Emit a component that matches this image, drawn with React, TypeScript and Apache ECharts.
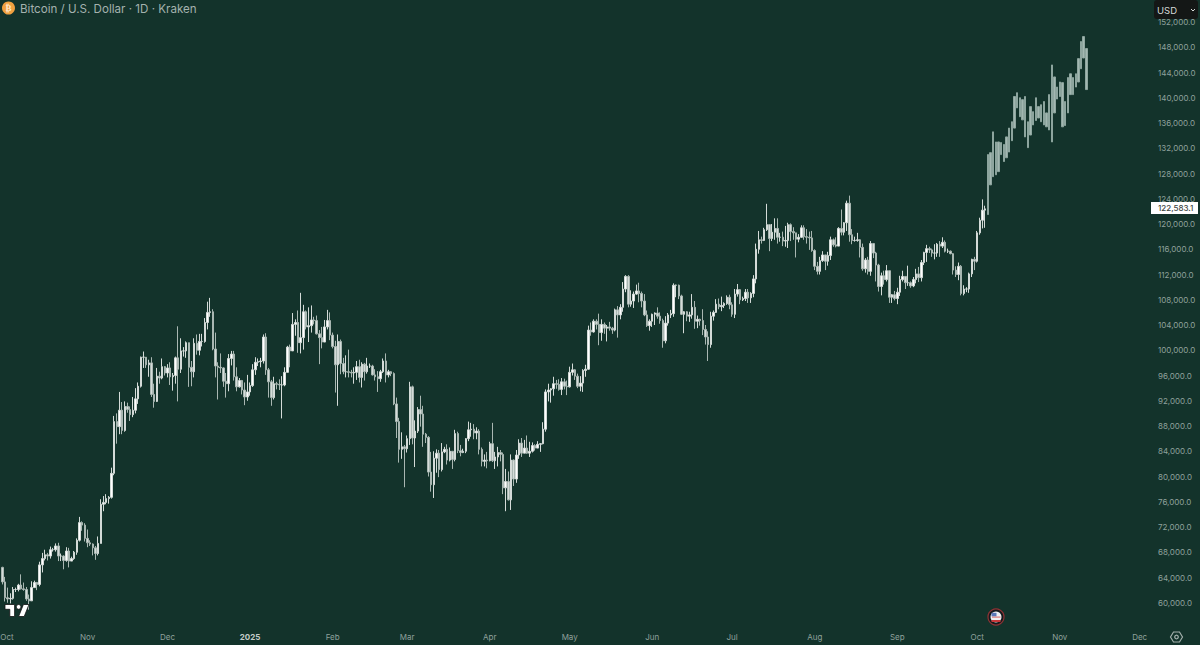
import React, { useEffect, useRef } from "react";
import * as echarts from "echarts";

// All prices are in thousands of USD. First candle: 30 Sep 2024.
const firstOpen = 65.6;
const closes = [
  63.3,
  60.8, 60.6, 60.7, 62.1, 62.1, 62.8, 62.2, 62.1, 60.6, 60.3, 62.4, 63.2, 62.9, 66.0, 67.0, 67.6, 67.4, 68.4, 68.4, 69.0, 67.4, 67.4, 66.7, 68.2, 66.6, 67.0, 68.0, 69.9, 72.7, 72.3, 70.2,
  69.5, 69.3, 68.7, 67.8, 69.4, 75.6, 75.9, 76.5, 76.7, 80.5, 88.7, 87.9, 90.5, 87.3, 91.1, 90.6, 89.8, 90.5, 92.3, 94.3, 98.9, 98.9, 97.7, 98.0, 93.0, 91.9, 95.9, 95.6, 97.4, 96.4,
  97.2, 95.8, 96.0, 98.8, 97.0, 99.9, 99.9, 101.2, 97.3, 96.6, 101.1, 100.0, 101.4, 101.4, 104.4, 106.0, 106.1, 100.2, 97.5, 97.3, 97.2, 95.1, 94.7, 98.7, 99.4, 95.8, 94.2, 95.2, 93.7, 92.6, 93.4,
  94.4, 96.9, 98.1, 98.2, 98.3, 102.1, 96.9, 95.0, 92.5, 94.7, 94.6, 94.5, 94.5, 96.5, 100.5, 99.9, 104.1, 104.4, 101.2, 102.0, 106.1, 103.7, 103.9, 104.8, 104.7, 102.6, 102.0, 101.3, 103.7, 104.7, 102.4,
  100.6, 97.7, 101.4, 97.9, 96.6, 96.6, 96.5, 96.4, 96.5, 97.4, 95.7, 97.8, 96.6, 97.5, 97.5, 96.1, 95.8, 95.5, 96.6, 98.3, 96.1, 96.6, 96.3, 91.5, 88.7, 84.3, 84.7, 84.4,
  86.0, 94.2, 86.1, 87.2, 90.6, 89.9, 86.7, 86.2, 80.7, 78.7, 82.9, 83.7, 81.1, 83.9, 84.3, 82.6, 84.0, 82.7, 86.8, 84.1, 83.8, 84.0, 86.0, 87.4, 87.5, 86.9, 87.2, 84.3, 82.4, 82.6, 82.5,
  85.2, 82.5, 83.1, 83.8, 83.5, 78.2, 79.2, 76.3, 82.6, 79.6, 83.4, 85.3, 83.7, 84.5, 83.7, 84.0, 84.9, 84.5, 85.1, 85.2, 87.5, 93.4, 93.7, 93.9, 94.7, 94.6, 93.8, 95.0, 94.3, 94.2,
  96.5, 96.9, 95.9, 94.3, 94.8, 96.8, 97.0, 103.2, 102.9, 104.6, 104.1, 102.8, 104.1, 103.5, 103.7, 103.5, 103.2, 106.4, 105.6, 106.8, 109.7, 111.7, 107.3, 107.8, 108.9, 109.4, 109.0, 107.8, 105.6, 103.9, 104.6,
  105.7, 105.9, 105.4, 104.7, 101.5, 104.3, 105.6, 105.8, 110.3, 110.3, 108.6, 105.7, 106.1, 105.4, 105.6, 106.8, 104.6, 104.9, 104.7, 103.3, 102.1, 100.9, 105.4, 106.0, 107.3, 106.9, 107.1, 107.4, 108.4, 107.2,
  105.7, 108.9, 109.6, 108.0, 108.2, 109.2, 108.3, 109.0, 111.3, 116.0, 117.5, 117.4, 119.1, 119.9, 117.7, 118.7, 119.3, 117.9, 117.9, 117.3, 117.4, 119.9, 118.8, 118.6, 117.6, 117.9, 119.4, 118.0, 117.9, 117.8, 115.8,
  113.3, 112.5, 114.2, 115.1, 114.1, 115.0, 117.5, 116.7, 116.5, 119.3, 118.7, 120.2, 123.3, 118.3, 117.4, 117.4, 117.5, 116.3, 112.9, 114.3, 112.5, 116.9, 115.4, 113.5, 110.1, 111.8, 111.2, 112.6, 108.4, 108.8, 108.2,
  109.2, 111.2, 111.7, 110.7, 110.7, 110.2, 111.2, 112.1, 111.5, 113.9, 115.5, 116.1, 115.9, 115.4, 115.4, 116.8, 116.5, 117.1, 115.7, 115.7, 115.3, 112.7, 112.0, 113.3, 109.0, 109.7, 109.7, 112.1, 114.4, 114.1,
  118.6, 120.6, 122.2, 122.4,
];
const highs = [
  65.7,
  64.1, 62.4, 61.5, 62.5, 62.4, 63.0, 64.5, 63.2, 62.5, 61.3, 63.4, 63.5, 63.3, 66.5, 67.9, 68.4, 67.9, 68.9, 68.7, 69.4, 69.5, 67.8, 67.5, 68.8, 68.7, 67.3, 68.2, 70.2, 73.6, 72.9, 72.6,
  71.6, 69.9, 69.4, 69.0, 70.5, 76.4, 76.9, 77.2, 76.9, 81.4, 89.6, 90.0, 93.4, 91.8, 91.9, 91.7, 91.1, 92.6, 94.0, 94.9, 99.0, 99.8, 98.7, 98.5, 98.9, 94.7, 97.2, 96.6, 98.7, 97.5,
  97.8, 98.1, 96.4, 99.0, 103.8, 101.9, 100.5, 101.4, 101.2, 98.3, 101.9, 102.5, 102.6, 102.6, 105.1, 107.7, 108.3, 106.5, 102.8, 98.1, 99.5, 97.3, 96.4, 99.4, 99.9, 99.9, 97.3, 95.6, 95.3, 94.9, 96.1,
  94.9, 97.8, 98.9, 98.7, 98.8, 102.5, 102.7, 97.2, 95.3, 95.8, 95.0, 95.4, 95.9, 97.3, 100.7, 100.9, 105.9, 104.9, 106.3, 109.1, 107.2, 106.3, 106.8, 107.1, 105.3, 105.5, 103.2, 103.7, 104.8, 106.4, 106.0,
  102.8, 101.5, 102.5, 101.7, 98.8, 99.2, 100.1, 96.9, 97.3, 98.3, 98.5, 98.1, 98.0, 98.8, 97.9, 97.7, 97.0, 96.7, 96.9, 98.7, 99.5, 96.9, 96.7, 96.5, 92.5, 89.3, 87.0, 85.0,
  86.5, 95.0, 94.4, 88.9, 91.0, 92.8, 91.2, 86.9, 86.4, 83.9, 84.0, 84.3, 84.2, 85.3, 84.7, 85.1, 84.6, 84.0, 87.4, 87.1, 85.0, 84.4, 86.1, 88.7, 88.5, 88.3, 87.8, 87.5, 84.6, 83.5, 83.9,
  85.5, 88.5, 83.9, 84.7, 84.2, 83.8, 81.2, 80.8, 83.5, 82.7, 84.2, 85.9, 86.1, 85.8, 86.5, 85.5, 85.4, 85.1, 85.6, 85.3, 88.6, 93.8, 94.7, 94.0, 95.8, 95.3, 95.4, 95.6, 95.5, 95.2,
  97.4, 97.9, 97.0, 96.3, 95.9, 97.0, 97.7, 103.9, 104.4, 104.9, 104.9, 105.8, 104.9, 104.4, 104.0, 104.5, 103.7, 106.6, 107.0, 107.3, 110.8, 111.9, 111.9, 109.5, 109.3, 110.4, 110.7, 109.3, 108.9, 106.3, 104.9,
  105.8, 106.0, 106.8, 106.0, 105.0, 105.4, 105.9, 106.4, 110.6, 110.4, 110.4, 108.8, 106.2, 106.2, 106.1, 108.9, 107.8, 105.5, 105.0, 106.5, 104.0, 103.0, 106.1, 106.3, 108.1, 108.2, 108.5, 107.6, 108.7, 108.8,
  107.6, 109.7, 110.5, 109.7, 108.5, 109.7, 109.7, 109.2, 111.9, 116.9, 118.9, 118.0, 119.4, 123.2, 119.9, 120.0, 120.9, 120.9, 118.6, 118.8, 119.7, 120.2, 120.1, 119.5, 118.6, 118.4, 119.8, 119.8, 119.2, 118.8, 118.9,
  116.0, 114.0, 114.8, 115.7, 115.1, 115.6, 118.0, 117.7, 117.9, 119.5, 122.3, 120.3, 123.7, 124.5, 119.2, 118.0, 118.6, 117.6, 116.9, 114.6, 114.8, 117.3, 117.0, 115.6, 113.7, 112.3, 112.6, 113.5, 112.6, 108.9, 109.4,
  109.9, 111.8, 112.6, 111.7, 113.4, 110.9, 111.6, 112.9, 113.2, 114.3, 115.6, 116.7, 116.4, 116.1, 116.8, 117.0, 117.3, 117.9, 117.4, 116.1, 115.8, 115.4, 113.3, 113.9, 113.5, 110.3, 110.0, 112.3, 114.5, 114.8,
  118.9, 121.0, 123.9, 122.9,
];
const lows = [
  62.9,
  60.2, 60.0, 59.9, 60.5, 61.7, 61.8, 62.1, 61.9, 60.3, 58.9, 60.3, 62.4, 62.0, 62.6, 64.8, 66.7, 66.7, 67.0, 68.1, 68.1, 66.6, 66.6, 65.3, 66.5, 65.6, 66.6, 66.8, 67.6, 69.7, 71.4, 69.7,
  68.8, 69.0, 67.5, 66.8, 67.5, 69.4, 74.5, 75.6, 75.7, 76.5, 80.2, 85.2, 86.7, 86.7, 87.1, 90.1, 88.8, 89.4, 90.0, 91.5, 94.1, 97.2, 97.2, 95.8, 92.6, 90.9, 91.8, 94.7, 95.4, 96.0,
  95.7, 94.5, 93.6, 94.7, 91.9, 96.4, 99.0, 98.8, 94.2, 94.3, 95.7, 99.3, 99.2, 100.6, 101.2, 103.3, 105.3, 100.0, 95.7, 92.2, 96.4, 94.2, 92.5, 93.5, 97.6, 95.2, 93.5, 94.1, 93.0, 91.3, 92.0,
  92.8, 94.2, 96.1, 97.5, 97.3, 97.9, 96.1, 92.5, 91.2, 92.2, 93.8, 93.7, 89.2, 94.3, 96.5, 97.3, 99.9, 102.3, 99.6, 99.5, 100.1, 103.3, 101.3, 102.8, 104.1, 102.5, 97.8, 100.3, 101.3, 103.3, 101.6,
  100.3, 93.3, 91.2, 96.2, 96.2, 95.7, 95.7, 95.7, 94.7, 95.3, 94.9, 94.1, 95.2, 96.3, 97.2, 96.0, 95.2, 93.4, 95.0, 96.4, 94.9, 95.7, 95.9, 91.3, 86.1, 82.2, 82.8, 78.3,
  83.8, 85.0, 85.1, 81.5, 86.9, 87.9, 84.7, 85.3, 80.0, 77.6, 76.6, 80.6, 79.9, 80.8, 83.7, 81.9, 82.4, 81.2, 82.4, 83.7, 83.2, 83.7, 83.7, 85.6, 86.3, 85.9, 85.9, 83.5, 81.6, 81.6, 81.3,
  82.4, 82.3, 81.2, 81.6, 82.4, 77.2, 74.5, 76.2, 74.7, 78.5, 79.0, 82.8, 83.1, 83.7, 83.6, 83.1, 83.8, 84.1, 84.5, 83.9, 85.1, 87.1, 91.9, 91.7, 92.8, 93.9, 93.6, 92.9, 93.8, 92.9,
  94.1, 96.0, 95.3, 94.0, 93.5, 93.4, 95.8, 96.9, 102.3, 102.8, 103.3, 100.8, 101.5, 102.6, 101.4, 103.1, 102.6, 103.0, 102.0, 104.9, 106.1, 109.2, 106.8, 106.9, 106.7, 108.8, 107.6, 106.8, 105.4, 103.7, 103.1,
  103.7, 104.0, 105.0, 104.2, 100.4, 101.1, 103.9, 105.1, 105.3, 108.4, 108.1, 105.6, 102.7, 104.6, 104.5, 105.0, 103.4, 103.5, 103.9, 102.4, 100.9, 98.3, 100.4, 104.7, 105.9, 106.5, 106.2, 106.7, 107.2, 106.5,
  105.3, 105.1, 108.5, 107.3, 107.8, 107.8, 107.5, 107.5, 108.4, 110.6, 115.3, 116.9, 117.3, 118.9, 115.7, 117.3, 117.5, 116.9, 117.2, 116.5, 116.4, 116.2, 117.3, 117.5, 114.7, 117.1, 117.8, 117.5, 116.9, 115.9, 115.6,
  112.7, 112.0, 112.0, 114.0, 112.7, 113.4, 114.3, 116.4, 116.3, 116.5, 118.2, 118.2, 118.9, 117.2, 116.8, 117.2, 117.2, 114.7, 112.6, 112.3, 112.0, 111.8, 114.6, 110.9, 109.3, 108.7, 110.4, 110.9, 107.5, 107.5, 107.9,
  107.3, 108.6, 110.9, 109.7, 110.2, 109.9, 110.0, 110.6, 110.8, 110.9, 113.5, 114.0, 115.4, 114.8, 114.4, 114.8, 114.8, 116.2, 115.5, 115.4, 115.2, 112.0, 111.6, 111.1, 108.7, 108.7, 109.2, 109.1, 111.6, 112.7,
  113.9, 118.3, 119.3, 119.4,
];

// Faded bars from 5 Oct 2025 to 11 Nov 2025
const lateTops = [131.0, 131.3, 134.6, 133.0, 133.0, 132.9, 132.6, 133.8, 135.2, 136.2, 140.2, 140.8, 140.0, 139.7, 140.2, 136.2, 138.6, 137.8, 140.0, 138.6, 138.9, 139.4, 137.6, 140.5, 145.2, 143.3, 141.7, 142.5, 142.4, 139.4, 143.2, 143.8, 143.2, 143.8, 146.2, 148.9, 149.7, 147.8];
const lateBottoms = [121.5, 126.2, 127.5, 127.8, 128.3, 131.0, 129.9, 130.5, 131.4, 133.2, 135.2, 138.4, 137.0, 136.5, 133.8, 132.1, 134.1, 135.7, 136.4, 136.8, 136.2, 135.7, 135.4, 134.9, 133.0, 137.6, 139.8, 140.2, 135.4, 135.6, 137.6, 140.5, 140.5, 141.7, 142.5, 144.6, 146.3, 141.3];

const lastPriceLabel = "122,583.1";
const monthLabels: Record<string, string> = {
  "2024-10": "Oct", "2024-11": "Nov", "2024-12": "Dec", "2025-01": "2025", "2025-02": "Feb", "2025-03": "Mar",
  "2025-04": "Apr", "2025-05": "May", "2025-06": "Jun", "2025-07": "Jul", "2025-08": "Aug", "2025-09": "Sep",
  "2025-10": "Oct", "2025-11": "Nov", "2025-12": "Dec",
};

const BG = "#13332b";
const AXIS_TEXT = "#8fa19c";
const FONT = "Inter, 'Noto Sans', sans-serif";

const days: string[] = [];
for (let i = 0; i < 431; i++) {
  days.push(new Date(Date.UTC(2024, 8, 30 + i)).toISOString().slice(0, 10));
}

const fadedStyle = { color: "#a3b7b1", color0: "#a3b7b1", borderColor: "#8da59e", borderColor0: "#8da59e" };
const candles: any[] = closes.map((c, i) => [
  (i === 0 ? firstOpen : closes[i - 1]) * 1000,
  c * 1000,
  lows[i] * 1000,
  highs[i] * 1000,
]);
lateTops.forEach((t, i) => {
  candles.push({
    value: [lateBottoms[i] * 1000, t * 1000, lateBottoms[i] * 1000, t * 1000],
    itemStyle: fadedStyle,
  });
});

const logoPath = "M14 6H2v6h6v9h6V6Zm12 15h-7l6-15h7l-6 15Zm-7-9a3 3 0 1 0 0-6 3 3 0 0 0 0 6Z";
echarts.graphic.registerShape("tvLogo", echarts.graphic.extendPath(logoPath, {}) as any);

export default function App() {
  const ref = useRef<HTMLDivElement>(null);
  useEffect(() => {
    document.body.style.margin = "0";
    document.body.style.background = BG;
    const chart = echarts.init(ref.current!, undefined, { renderer: "svg" });
    chart.setOption({
      animation: false,
      backgroundColor: BG,
      grid: { left: 1, right: 51, top: 0, bottom: 17, outerBoundsMode: "none" },
      xAxis: {
        type: "category",
        data: days,
        boundaryGap: true,
        axisLine: { show: false },
        axisTick: { show: false },
        splitLine: { show: false },
        axisLabel: {
          interval: (_: number, v: string) => v.endsWith("-01"),
          formatter: (v: string) => {
            const t = monthLabels[v.slice(0, 7)] ?? "";
            if (v === "2024-10-01") return `{first|${t}}`;
            return t === "2025" ? `{b|${t}}` : t;
          },
          color: AXIS_TEXT,
          fontFamily: FONT,
          fontSize: 8,
          margin: 5,
          hideOverlap: false,
          rich: {
            b: { fontWeight: 700, color: "#c3ccc9", fontFamily: FONT, fontSize: 8 },
            first: { color: AXIS_TEXT, fontFamily: FONT, fontSize: 8, padding: [0, 0, 0, 4] },
          },
        },
      },
      yAxis: {
        type: "value",
        position: "right",
        min: 56000,
        max: 155490,
        interval: 4000,
        axisLine: { show: false },
        axisTick: { show: false },
        splitLine: { show: false },
        axisLabel: {
          showMaxLabel: false,
          showMinLabel: false,
          color: AXIS_TEXT,
          fontFamily: FONT,
          fontSize: 8,
          margin: 9,
          formatter: (v: number) =>
            v.toLocaleString("en-US", { minimumFractionDigits: 1, maximumFractionDigits: 1 }),
        },
      },
      series: [
        {
          type: "candlestick",
          data: candles,
          barWidth: 2,
          itemStyle: {
            color: "#ffffff",
            color0: "#d5dcd9",
            borderColor: "#d4dbd8",
            borderColor0: "#a9b7b2",
            borderWidth: 1,
          },
        },
      ],
      graphic: {
        elements: [
          { type: "circle", z: 50, shape: { cx: 8.5, cy: 8, r: 6.5 }, style: { fill: "#f0a040" } },
          { type: "text", z: 51, style: { text: "₿", x: 8.5, y: 8, fill: "#ffe9cc", font: "700 9px 'DejaVu Sans'", textAlign: "center", textVerticalAlign: "middle" } },
          { type: "text", z: 50, style: { text: "Bitcoin / U.S. Dollar · 1D · Kraken", x: 20, y: 9, fill: "#a4b2ae", font: `400 11.6px ${FONT}`, textVerticalAlign: "middle" } },
          { type: "rect", z: 60, shape: { x: 1154, y: 0, width: 44, height: 19, r: 3 }, style: { fill: "#141716" } },
          { type: "text", z: 61, style: { text: "USD", x: 1157, y: 10, fill: "#d6dad9", font: `400 9.5px ${FONT}`, textVerticalAlign: "middle" } },
          { type: "polyline", z: 61, shape: { points: [[1191, 9], [1193, 11], [1195, 9]] }, style: { stroke: "#d6dad9", lineWidth: 1, fill: "none" } },
          { type: "rect", z: 60, shape: { x: 1151, y: 202, width: 47, height: 12 }, style: { fill: "#ffffff" } },
          { type: "text", z: 61, style: { text: lastPriceLabel, x: 1158, y: 208, fill: "#3d4543", font: `500 8px ${FONT}`, textVerticalAlign: "middle" } },
          { type: "tvLogo", z: 70, x: 3.4, y: 599.7, scaleX: 0.8, scaleY: 0.8, style: { fill: "#ffffff", stroke: "#111", lineWidth: 1 } },
          { type: "circle", z: 70, shape: { cx: 996, cy: 617, r: 8 }, style: { fill: "#151a1d", stroke: "#8f3234", lineWidth: 1.2 } },
          { type: "circle", z: 71, shape: { cx: 996, cy: 617, r: 5.5 }, style: { fill: "#eef0f2" } },
          { type: "rect", z: 72, shape: { x: 991.5, y: 620, width: 9, height: 2 }, style: { fill: "#c7383a" } },
          { type: "rect", z: 72, shape: { x: 992, y: 616.5, width: 8.5, height: 1.2 }, style: { fill: "#d77" } },
          { type: "rect", z: 72, shape: { x: 991.5, y: 612.8, width: 5, height: 3.5 }, style: { fill: "#5a78b8" } },
          { type: "polygon", z: 70, shape: { points: [[1170.5, 637], [1173.5, 632], [1179.5, 632], [1182.5, 637], [1179.5, 642], [1173.5, 642]] }, style: { fill: "none", stroke: "#a3b0ac", lineWidth: 1.2 } },
          { type: "circle", z: 70, shape: { cx: 1176.5, cy: 637, r: 1.8 }, style: { fill: "none", stroke: "#a3b0ac", lineWidth: 1.2 } },
        ],
      },
    });
    return () => chart.dispose();
  }, []);
  return <div ref={ref} style={{ width: 1200, height: 645, background: BG }} />;
}
